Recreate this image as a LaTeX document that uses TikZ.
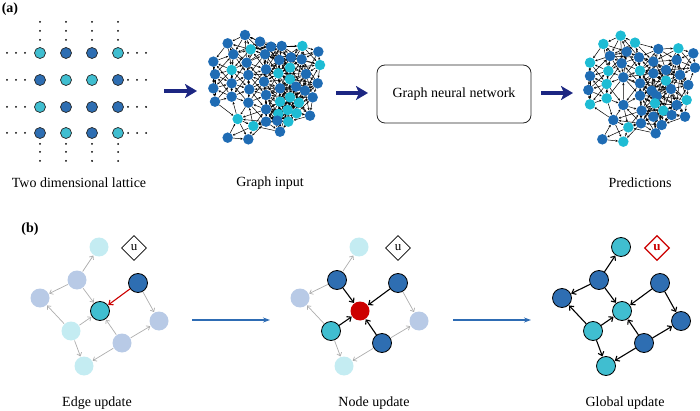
\documentclass[tikz,border=0pt]{standalone}
\usepackage{fontspec}
\setmainfont{Liberation Serif}
\usetikzlibrary{arrows.meta,shapes.geometric}
\pgfdeclarelayer{bg}
\pgfsetlayers{bg,main}
\definecolor{gd}{RGB}{31,108,180}
\definecolor{gc}{RGB}{30,188,212}
\definecolor{bd}{RGB}{46,110,178}
\definecolor{bc}{RGB}{64,190,208}
\definecolor{fd}{RGB}{184,202,230}
\definecolor{fc}{RGB}{196,236,242}
\definecolor{navy}{RGB}{28,38,130}
\definecolor{ablue}{RGB}{46,108,180}
\definecolor{ured}{RGB}{204,0,0}
\tikzset{
  lbl/.style={font=\fontsize{14}{16}\selectfont},
  plbl/.style={font=\fontsize{14}{16}\selectfont\bfseries},
  lnode/.style={circle,inner sep=0pt,minimum size=11pt,draw=black!85,line width=0.7pt},
  gnode/.style={circle,inner sep=0pt,minimum size=10.5pt,draw=none},
  gedge/.style={draw=black,line width=0.5pt,-{Stealth[length=2.4pt,width=2.2pt]}},
  bigarrow/.style={draw=navy,line width=3.2pt,-{Stealth[length=12pt,width=14pt,inset=3pt]}},
  thinarrow/.style={draw=ablue,line width=1.1pt,-{Stealth[length=7pt,width=5pt]}},
  fnode/.style={circle,inner sep=0pt,minimum size=19pt,fill=#1},
  onode/.style={circle,inner sep=0pt,minimum size=19pt,fill=#1,draw=black,line width=0.8pt},
  garrow/.style={draw=black!32,line width=0.7pt,-{Straight Barb[length=3pt,width=5pt]},shorten >=0.5pt,shorten <=0.5pt},
  barrow/.style={draw=black,line width=1.1pt,-{Straight Barb[length=3.5pt,width=6pt]},shorten >=0.3pt},
  rarrow/.style={draw=ured,line width=1.1pt,-{Straight Barb[length=3.5pt,width=6pt]},shorten >=0.3pt},
  udiam/.style={diamond,draw=black,fill=white,aspect=1,minimum size=25pt,inner sep=0pt,line width=0.8pt,font=\fontsize{13}{13}\selectfont},
  udiamr/.style={udiam,draw=ured,text=ured,line width=1.2pt,font=\fontsize{13}{13}\selectfont\bfseries}
}
\newcommand\netgraph[2]{%
  \foreach \gx/\gy/\gcol [count=\gi] in {#2}{%
    \node[gnode,fill=\gcol] (#1\gi) at (\gx,\gy) {};
    \expandafter\xdef\csname #1x\gi\endcsname{\gx}%
    \expandafter\xdef\csname #1y\gi\endcsname{\gy}%
    \xdef\gnum{\gi}%
  }%
  \begin{pgfonlayer}{bg}
  \foreach \gi in {1,...,\gnum}{%
    \foreach \gj in {1,...,\gnum}{%
      \ifnum\gj>\gi\relax
        \edef\gxa{\csname #1x\gi\endcsname}\edef\gya{\csname #1y\gi\endcsname}%
        \edef\gxb{\csname #1x\gj\endcsname}\edef\gyb{\csname #1y\gj\endcsname}%
        \pgfmathsetmacro\gdist{veclen(\gxa-\gxb,\gya-\gyb)}%
        \ifdim\gdist pt<95pt
          \pgfmathtruncatemacro\gpar{mod(\gi+\gj,2)}%
          \ifnum\gpar=0 \draw[gedge] (#1\gj) -- (#1\gi);\else\draw[gedge] (#1\gi) -- (#1\gj);\fi
        \fi
      \fi
    }%
  }%
  \end{pgfonlayer}
}
\begin{document}
\begin{tikzpicture}[x=1pt,y=-1pt]
\useasboundingbox (0,0) rectangle (700,411);
% ---------- (a)
\node[plbl] (la) at (10,9) {(a)};
% lattice
\foreach \c [count=\i] in {bc,bd,bd,bc} \node[lnode,fill=\c] (l1\i) at ({14+26*\i},53) {};
\foreach \c [count=\i] in {bd,bc,bc,bd} \node[lnode,fill=\c] (l2\i) at ({14+26*\i},80) {};
\foreach \c [count=\i] in {bc,bd,bd,bd} \node[lnode,fill=\c] (l3\i) at ({14+26*\i},107) {};
\foreach \c [count=\i] in {bd,bc,bd,bc} \node[lnode,fill=\c] (l4\i) at ({14+26*\i},133) {};
\foreach \y in {53,80,107,133}{
  \foreach \x in {7,16,25,128,137,146} \fill (\x,\y) circle (1pt);
}
\foreach \x in {40,66,92,118}{
  \foreach \y in {22,31,40,144,152,161} \fill (\x,\y) circle (1pt);
}
\node[lbl] (t1) at (79,183) {Two dimensional lattice};
% arrows
\coordinate (a1s) at (164,91); \coordinate (a1e) at (197,91);
\draw[bigarrow] (a1s) -- (a1e);
\coordinate (a2s) at (336,93); \coordinate (a2e) at (368,93);
\draw[bigarrow] (a2s) -- (a2e);
\coordinate (a3s) at (541,93); \coordinate (a3e) at (573,93);
\draw[bigarrow] (a3s) -- (a3e);
% graph input
\begin{scope}[shift={(190,20)},scale=1/3]
\netgraph{gi}{165/45/gd,113/70/gd,210/65/gd,182/88/gc,243/80/gd,275/78/gd,337/78/gc,385/95/gd,
70/125/gd,130/103/gd,170/128/gd,225/103/gd,268/120/gd,303/112/gd,335/118/gd,390/135/gc,
125/150/gc,75/163/gd,175/165/gd,228/148/gd,265/160/gc,300/143/gc,348/162/gd,
300/178/gc,383/190/gd,70/205/gd,125/190/gd,178/208/gd,222/185/gd,270/205/gd,318/200/gd,345/212/gd,
75/245/gd,125/230/gd,175/248/gd,228/225/gd,270/245/gc,300/232/gc,327/248/gc,368/232/gd,
228/268/gd,265/282/gc,293/270/gc,320/280/gc,360/287/gd,
143/297/gc,190/318/gc,228/305/gd,262/302/gd,295/305/gc,
270/335/gd,113/353/gd,175/358/gd}
\end{scope}
\node[lbl] (t2) at (270,183) {Graph input};
% GNN box
\node[draw=black!85,rounded corners=8pt,minimum width=154pt,minimum height=58pt,line width=0.8pt,lbl] (gnn) at (454,94) {Graph neural network};
% predictions
\begin{scope}[shift={(560,20)},scale=1/3]
\netgraph{pr}{182/47/gc,130/72/gc,225/68/gc,150/108/gd,200/95/gd,295/87/gd,355/85/gc,400/100/gd,
90/128/gc,185/130/gd,237/112/gd,280/125/gd,350/120/gd,405/143/gd,
145/153/gc,90/168/gd,190/172/gd,240/152/gc,280/160/gd,318/150/gd,360/165/gd,
140/192/gc,85/210/gd,240/190/gd,318/182/gc,275/212/gd,333/207/gd,385/195/gd,
90/253/gc,140/235/gc,190/255/gd,240/227/gd,290/228/gd,350/255/gd,380/240/gc,
245/272/gd,285/250/gc,310/272/gc,335/285/gd,375/290/gd,
160/300/gd,205/322/gc,243/310/gd,280/290/gd,305/315/gd,
287/340/gd,127/358/gd,190/365/gc}
\end{scope}
\node[lbl] (t3) at (640,183) {Predictions};
% ---------- (b)
\node[plbl] (lb) at (30,229) {(b)};
% panel 1: edge update
\begin{scope}
\node[fnode=fc] (pT) at (99,247) {};
\node[fnode=fd] (pA) at (77,280) {};
\node[fnode=fd] (pB) at (40,298) {};
\node[onode=bc] (pC) at (100,311) {};
\node[onode=bd] (pD) at (138,283) {};
\node[fnode=fd] (pE) at (159,321) {};
\node[fnode=fc] (pF) at (71,331) {};
\node[fnode=fd] (pG) at (122,343) {};
\node[fnode=fc] (pH) at (84,366) {};
\node[udiam] (pu) at (134,248) {u};
\foreach \a/\b in {A/T,A/B,A/C,D/E,F/B,F/C,F/H,G/C,G/E,G/H} \draw[garrow] (p\a) -- (p\b);
\draw[rarrow] (pD) -- (pC);
\end{scope}
\node[lbl] (t4) at (97,403) {Edge update};
% panel 2: node update
\begin{scope}[shift={(260,0)}]
\node[fnode=fc] (qT) at (99,247) {};
\node[onode=bd] (qA) at (77,280) {};
\node[fnode=fd] (qB) at (40,298) {};
\node[fnode=ured] (qC) at (100,311) {};
\node[onode=bd] (qD) at (138,283) {};
\node[fnode=fd] (qE) at (159,321) {};
\node[onode=bc] (qF) at (71,331) {};
\node[onode=bd] (qG) at (122,343) {};
\node[fnode=fc] (qH) at (84,366) {};
\node[udiam] (qu) at (138,248) {u};
\foreach \a/\b in {A/T,A/B,D/E,F/B,F/H,G/E,G/H} \draw[garrow] (q\a) -- (q\b);
\foreach \a/\b in {A/C,D/C,F/C,G/C} \draw[barrow] (q\a) -- (q\b);
\end{scope}
\node[lbl] (t5) at (374,403) {Node update};
% panel 3: global update
\begin{scope}[shift={(522,0)}]
\node[onode=bc] (rT) at (99,247) {};
\node[onode=bd] (rA) at (77,280) {};
\node[onode=bd] (rB) at (40,298) {};
\node[onode=bc] (rC) at (100,311) {};
\node[onode=bd] (rD) at (138,283) {};
\node[onode=bd] (rE) at (159,321) {};
\node[onode=bc] (rF) at (71,331) {};
\node[onode=bd] (rG) at (122,343) {};
\node[onode=bc] (rH) at (84,366) {};
\node[udiamr] (ru) at (135,248) {u};
\foreach \a/\b in {A/T,A/B,A/C,D/C,D/E,F/B,F/C,F/H,G/C,G/E,G/H} \draw[barrow] (r\a) -- (r\b);
\end{scope}
\node[lbl] (t6) at (625,403) {Global update};
% blue arrows
\coordinate (b1s) at (192,320); \coordinate (b1e) at (270,320);
\draw[thinarrow] (b1s) -- (b1e);
\coordinate (b2s) at (453,320); \coordinate (b2e) at (531,320);
\draw[thinarrow] (b2s) -- (b2e);
\end{tikzpicture}
\end{document}
